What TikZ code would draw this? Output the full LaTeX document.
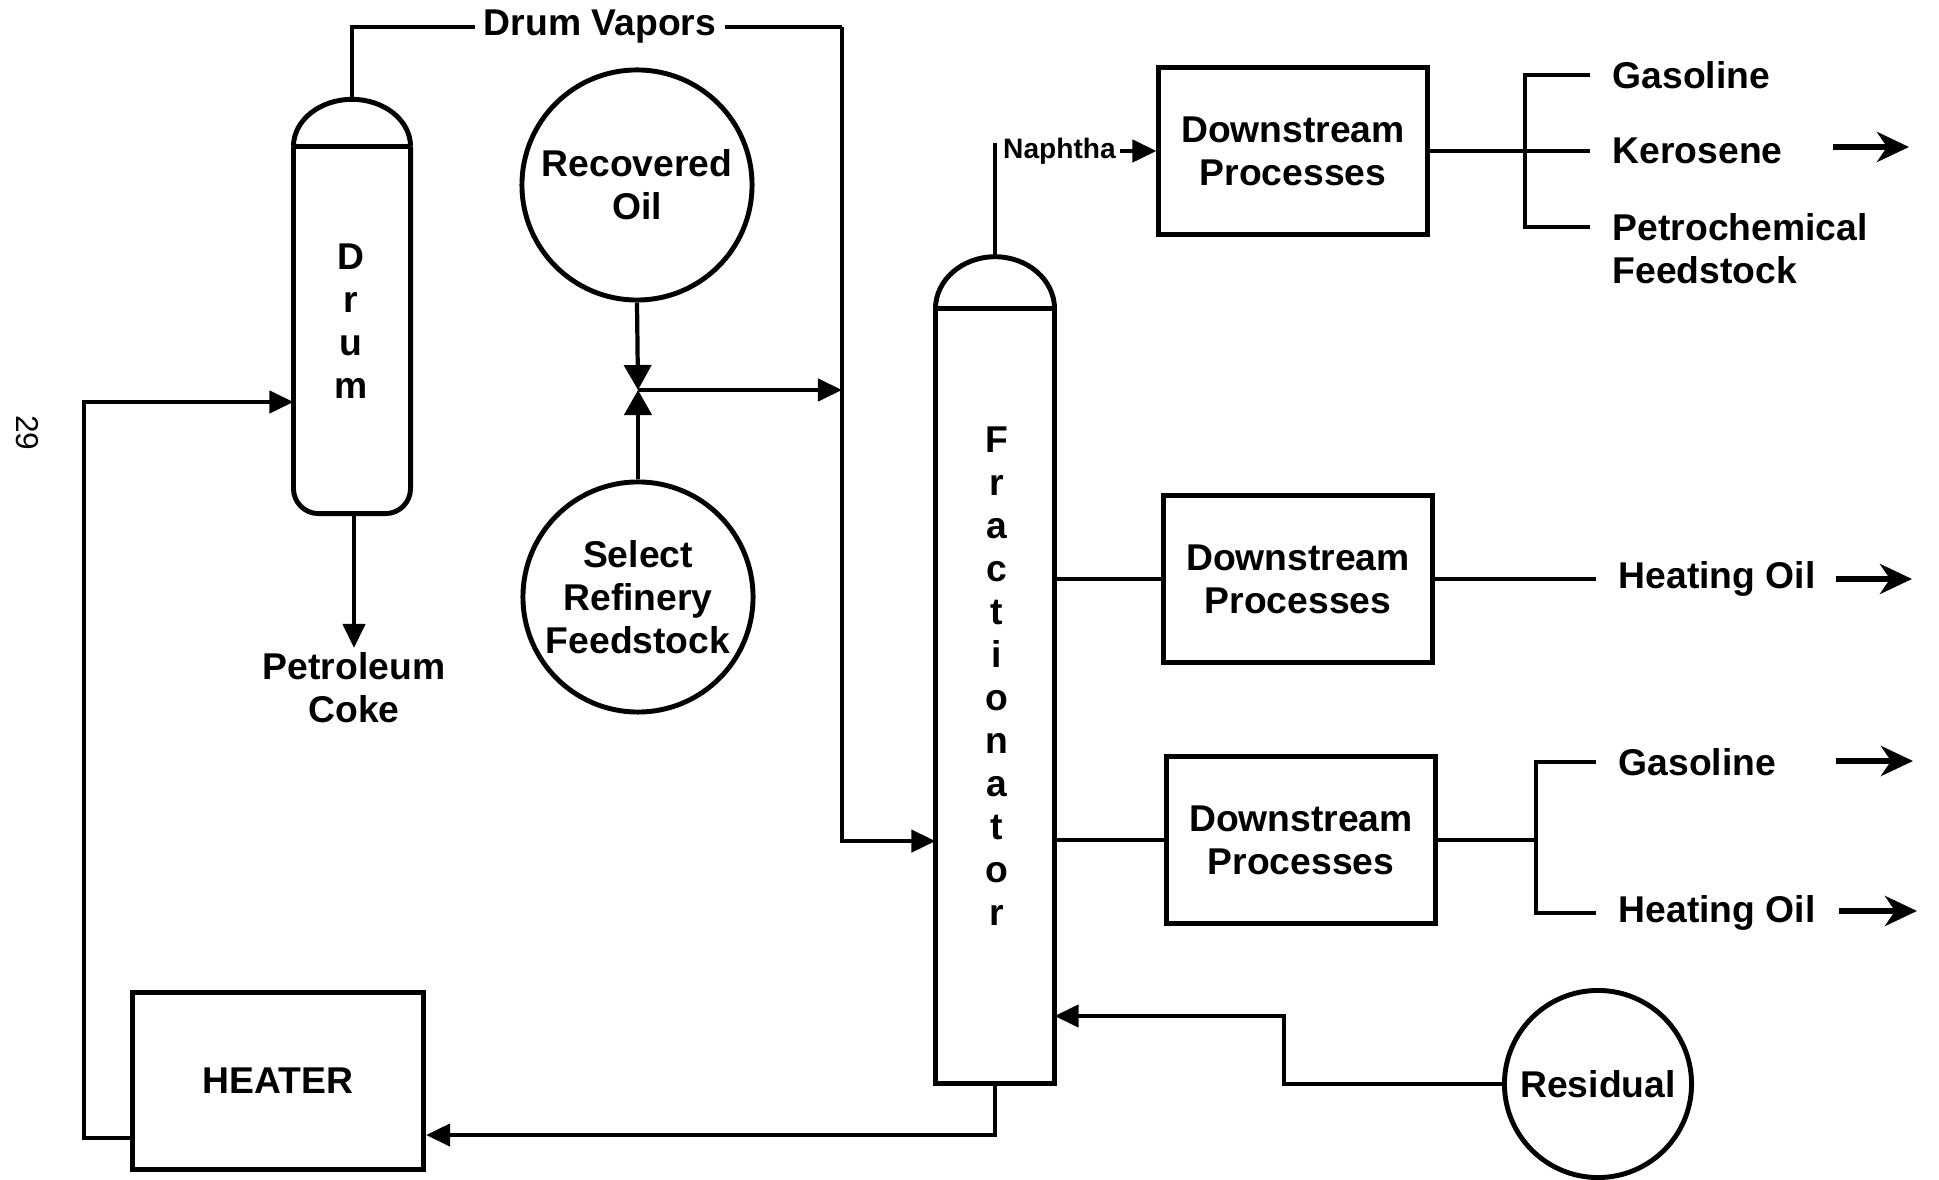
\documentclass[tikz,border=0pt]{standalone}
\usepackage{fontspec}
\setmainfont{Liberation Sans}
\usetikzlibrary{arrows.meta,calc}

\begin{document}
\begin{tikzpicture}[x=0.01cm,y=-0.01cm,
  lbl/.style={font=\bfseries\fontsize{10.6}{12.2}\selectfont,align=center,inner sep=1pt},
  stack/.style={font=\bfseries\fontsize{10.6}{12.24}\selectfont,align=center,inner sep=0pt},
  vessel/.style={inner sep=0pt,outer sep=0pt},
  shell/.style={line width=1.4pt},
  dsbox/.style={lbl,draw,line width=1.4pt,minimum width=2.68cm,minimum height=1.67cm},
  tank/.style={lbl,draw,circle,line width=1.4pt,minimum size=2.3cm},
  prod/.style={lbl,align=left,anchor=west,inner xsep=0.22cm},
  pipe/.style={line width=1.2pt},
  flow/.style={pipe,-{Triangle[length=0.24cm,width=0.22cm]}},
  valvein/.style={pipe,-{Triangle[length=0.25cm,width=0.27cm]}},
  outarrow/.style={line width=1.6pt,-{Stealth[length=0.32cm,width=0.3cm,inset=0.1cm]}}]
  \useasboundingbox (0,0) rectangle (1939,1180);

  \node[font=\fontsize{9}{10}\selectfont,rotate=-90] (pgno) at (27,433) {29};

  % drum
  \node[vessel,minimum width=1.17cm,minimum height=3.67cm] (drum) at (352,330) {};
  \draw[shell,rounded corners=0.25cm] (drum.north west) -- (drum.south west)
        -- (drum.south east) -- (drum.north east);
  \draw[shell] (drum.north west) -- (drum.north east);
  \draw[shell] (drum.north west) arc[start angle=180,end angle=0,x radius=0.585cm,y radius=0.47cm];
  \coordinate (drumtop) at (352,99);
  \node[stack] (drumtxt) at (351,321) {D\\r\\u\\m};
  \node[lbl,anchor=north] (coke) at (354,648) {Petroleum\\Coke};

  % fractionator
  \node[vessel,draw,shell,minimum width=1.19cm,minimum height=7.74cm] (frac) at (995,696) {};
  \draw[shell] (frac.north west) arc[start angle=180,end angle=0,x radius=0.595cm,y radius=0.52cm];
  \coordinate (fractop) at (995,257);
  \node[stack] (fractxt) at (997,676) {F\\r\\a\\c\\t\\i\\o\\n\\a\\t\\o\\r};

  % feeds
  \node[tank] (ro) at (637,185) {Recovered\\Oil};
  \node[tank] (srf) at (638,597) {Select\\Refinery\\Feedstock};
  \coordinate (valve) at (638,390);
  \node[lbl,draw,line width=1.4pt,minimum width=2.91cm,minimum height=1.77cm] (heater) at (278,1081) {HEATER};
  \node[lbl,draw,circle,line width=1.4pt,inner sep=0pt,minimum size=1.87cm] (res) at (1598,1084) {Residual};

  % downstream
  \node[dsbox] (ds1) at (1293,151) {Downstream\\Processes};
  \node[dsbox] (ds2) at (1298,579) {Downstream\\Processes};
  \node[dsbox] (ds3) at (1301,840) {Downstream\\Processes};

  \node[lbl,inner xsep=0.08cm] (vapors) at (600,27) {Drum Vapors};
  \node[font=\bfseries\fontsize{8}{9}\selectfont,anchor=west,inner sep=1pt] (naph) at (999,151) {Naphtha};

  \node[prod] (gas1) at (1590,75) {Gasoline};
  \node[prod] (kero) at (1590,151) {Kerosene};
  \node[prod] (petro) at (1590,249) {Petrochemical\\Feedstock};
  \node[prod] (heat1) at (1596,579) {Heating Oil};
  \node[prod] (gas2) at (1596,762) {Gasoline};
  \node[prod] (heat2) at (1596,913) {Heating Oil};

  \coordinate (vapturn) at (842,27);
  \coordinate (br1) at (1525,151);
  \coordinate (br3) at (1536,840);

  % connectors
  \draw[pipe] (drumtop) |- (vapors.west);
  \draw[pipe] (vapors.east) -- (vapturn);
  \draw[flow] (vapturn) |- ([yshift=-1.45cm]frac.west);
  \draw[valvein] (ro.south) -- (valve);
  \draw[valvein] (srf.north) -- (valve);
  \draw[flow] (valve) -- (vapturn |- valve);
  \draw[flow] (drum.south -| coke) -- (coke.north);
  \draw[flow] ([yshift=-0.57cm]heater.west) -| (84,402) -- (drum.west |- 84,402);
  \draw[flow] (frac.south) |- ([yshift=-0.54cm]heater.east);
  \draw[flow] (res.west) -| (1284,1016) -- (frac.east |- 1284,1016);
  \draw[pipe] (fractop) -- ++(0,-114);
  \draw[flow] (naph.east) -- (ds1.west);
  \draw[pipe] (frac.east |- ds2) -- (ds2.west);
  \draw[pipe] (frac.east |- ds3) -- (ds3.west);

  \draw[pipe] (ds1.east) -- (kero.west);
  \draw[pipe] (gas1.west) -| (br1) |- ([yshift=0.22cm]petro.west);
  \draw[pipe] (ds2.east) -- (heat1.west);
  \draw[pipe] (ds3.east) -- (br3);
  \draw[pipe] (gas2.west) -| (br3) |- (heat2.west);

  \coordinate (keroout) at (1833,147);
  \coordinate (heat1out) at (1836,579);
  \coordinate (gas2out) at (1836,761);
  \coordinate (heat2out) at (1839,911);
  \draw[outarrow] (keroout) -- ++(76,0);
  \draw[outarrow] (heat1out) -- ++(76,0);
  \draw[outarrow] (gas2out) -- ++(77,0);
  \draw[outarrow] (heat2out) -- ++(78,0);
\end{tikzpicture}
\end{document}
